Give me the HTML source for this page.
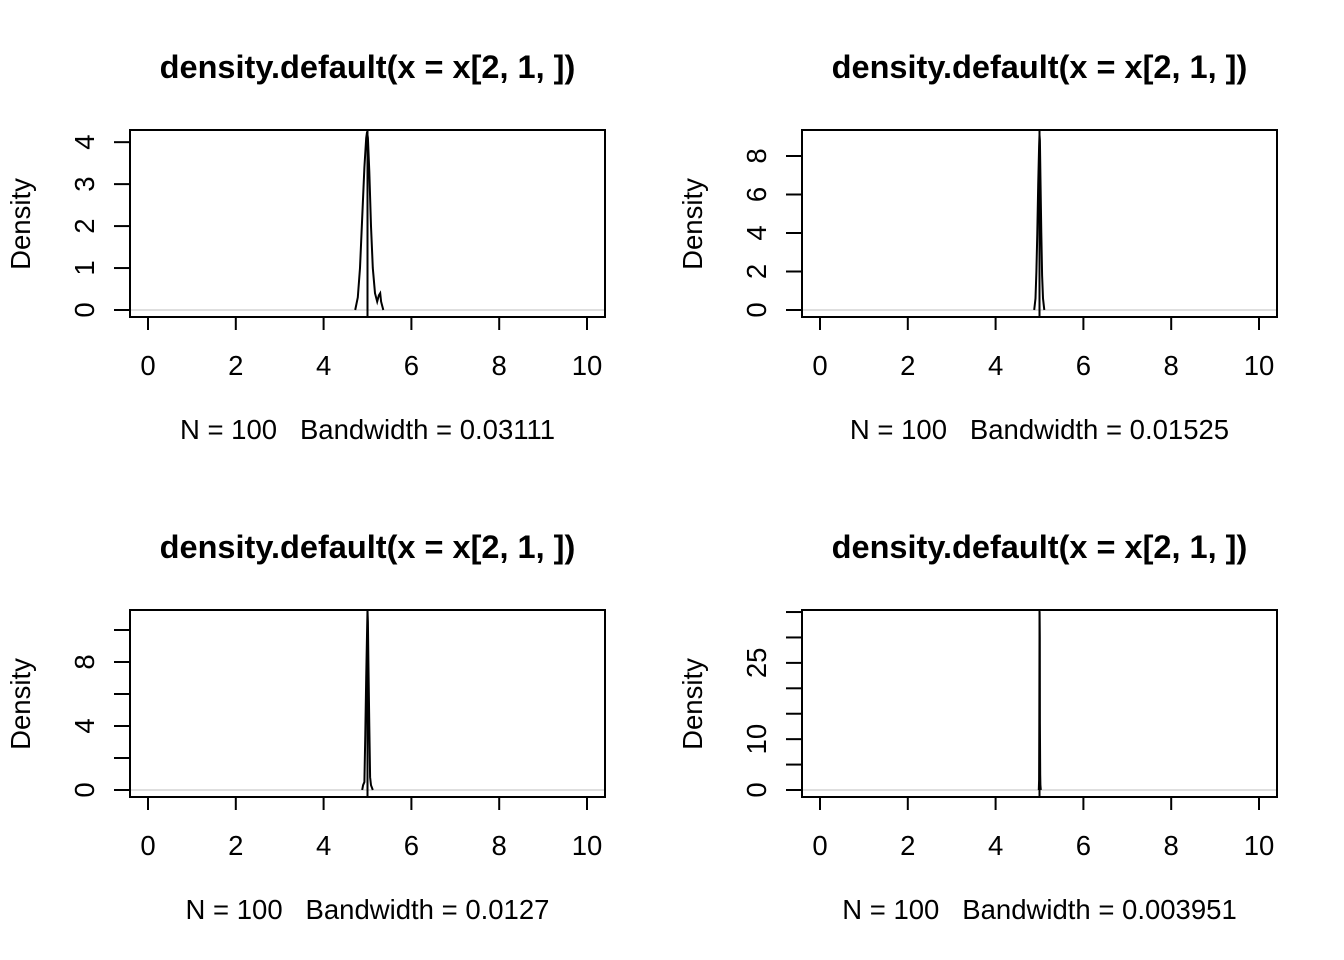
<!DOCTYPE html>
<html><head><meta charset="utf-8"><style>
html,body{margin:0;padding:0;background:#fff;}
svg{display:block;font-family:"Liberation Sans",Arial,sans-serif;}
text{white-space:pre;}
</style></head><body>
<svg id="chart" width="1344" height="960" viewBox="0 0 1344 960" xmlns="http://www.w3.org/2000/svg"></svg>
<script>
const titles = ["density.default(x = x[2, 1, ])","density.default(x = x[2, 1, ])","density.default(x = x[2, 1, ])","density.default(x = x[2, 1, ])"];
const subtitles = ["N = 100   Bandwidth = 0.03111","N = 100   Bandwidth = 0.01525","N = 100   Bandwidth = 0.0127","N = 100   Bandwidth = 0.003951"];
const xTicks = [0,2,4,6,8,10];
const yTicks1 = [0,1,2,3,4];
const yTicks2 = [0,2,4,6,8];
const yTicks3 = [0,2,4,6,8,10];
const yTicks4 = [0,5,10,15,20,25,30,35];
const yLabels1 = [0,1,2,3,4];
const yLabels2 = [0,2,4,6,8];
const yLabels3 = [0,4,8];
const yLabels4 = [0,10,25];
const yMax = [4.29,9.35,11.25,35.4];
const curveX1 = [4.72,4.78,4.83,4.88,4.93,4.97,4.99,5.01,5.04,5.08,5.12,5.17,5.22,5.26,5.29,5.31,5.36];
const curveY1 = [0,0.3,1.0,2.2,3.4,4.1,4.25,4.1,3.3,2.0,1.0,0.4,0.2,0.35,0.4,0.2,0];
const curveX2 = [4.88,4.91,4.93,4.95,4.97,4.99,5.0,5.01,5.02,5.04,5.06,5.08,5.11];
const curveY2 = [0,0.6,2,4,6.5,8.5,9.1,8.8,7,4,1.8,0.6,0];
const curveX3 = [4.88,4.9,4.93,4.95,4.97,4.99,5.0,5.01,5.02,5.04,5.06,5.08,5.12];
const curveY3 = [0,0.3,0.5,3.5,7,10,11.3,10.5,8,4,0.8,0.3,0];
const curveX4 = [4.985,4.99,4.995,5.0,5.003,5.006,5.01,5.015,5.02,5.03];
const curveY4 = [0,2,13,30,35,30,13,3,1,0];

const yTicksAll=[yTicks1,yTicks2,yTicks3,yTicks4];
const yLabelsAll=[yLabels1,yLabels2,yLabels3,yLabels4];
const cx=[curveX1,curveX2,curveX3,curveX4], cy=[curveY1,curveY2,curveY3,curveY4];
const NS="http://www.w3.org/2000/svg";
const svg=document.getElementById('chart');
function mk(tag,attrs,parent,text){const e=document.createElementNS(NS,tag);for(const k in attrs)e.setAttribute(k,attrs[k]);if(text!==undefined)e.textContent=text;parent.appendChild(e);return e;}

for(let p=0;p<4;p++){
  const ox=(p%2)*672, oy=Math.floor(p/2)*480;
  const L=130+ox,R=605+ox,T=130+oy,B=317+oy;
  const y0=310+oy;
  const xs=v=>148+ox+(v)*43.9;
  const ys=v=>y0-v*(y0-T)/yMax[p];
  const g=mk('g',{},svg);
  
  
  const t=mk('text',{x:(L+R)/2,y:78+oy,'text-anchor':'middle',style:'font-size:32.5px;font-weight:bold'},g,titles[p]);
  
  
  const s=mk('text',{x:(L+R)/2,y:439+oy,'text-anchor':'middle',style:'font-size:27.5px'},g,subtitles[p]);
  
  
  const yl=mk('text',{x:0,y:0,'text-anchor':'middle',style:'font-size:27.5px',transform:`translate(${30+ox},${224+oy}) rotate(-90)`},g,'Density');
  
  
  const z=mk('line',{x1:L,x2:R,y1:y0,y2:y0,stroke:'#bebebe','stroke-width':1},g);
  
  
  let d='';cx[p].forEach((v,i)=>{d+=(i?'L':'M')+xs(v).toFixed(1)+','+Math.max(T,ys(cy[p][i])).toFixed(1);});
  const c=mk('path',{d:d,fill:'none',stroke:'#000','stroke-width':2},g);
  
  
  const v=mk('line',{x1:xs(5),x2:xs(5),y1:T,y2:B,stroke:'#000','stroke-width':2},g);
  
  
  const box=mk('rect',{x:L,y:T,width:R-L,height:B-T,fill:'none',stroke:'#000','stroke-width':2},g);
  
  
  const xa=mk('g',{},g);
  
  
  mk('line',{x1:xs(xTicks[0]),x2:xs(xTicks[xTicks.length-1]),y1:B,y2:B,stroke:'#000','stroke-width':2},xa);
  xTicks.forEach(tv=>{
    mk('line',{x1:xs(tv),x2:xs(tv),y1:B,y2:B+13,stroke:'#000','stroke-width':2},xa);
    const tl=mk('text',{x:xs(tv),y:375+oy,'text-anchor':'middle',style:'font-size:27.5px'},xa,String(tv));
    
    
  });
  const ya=mk('g',{},g);
  
  
  const yt=yTicksAll[p];
  yt.forEach(tv=>{mk('line',{x1:L-16,x2:L,y1:ys(tv),y2:ys(tv),stroke:'#000','stroke-width':2},ya);});
  yLabelsAll[p].forEach(tv=>{
    const tl=mk('text',{x:0,y:0,'text-anchor':'middle',style:'font-size:27.5px',transform:`translate(${94+ox},${ys(tv)}) rotate(-90)`},ya,String(tv));
    
    
  });
}
</script>
</body></html>
